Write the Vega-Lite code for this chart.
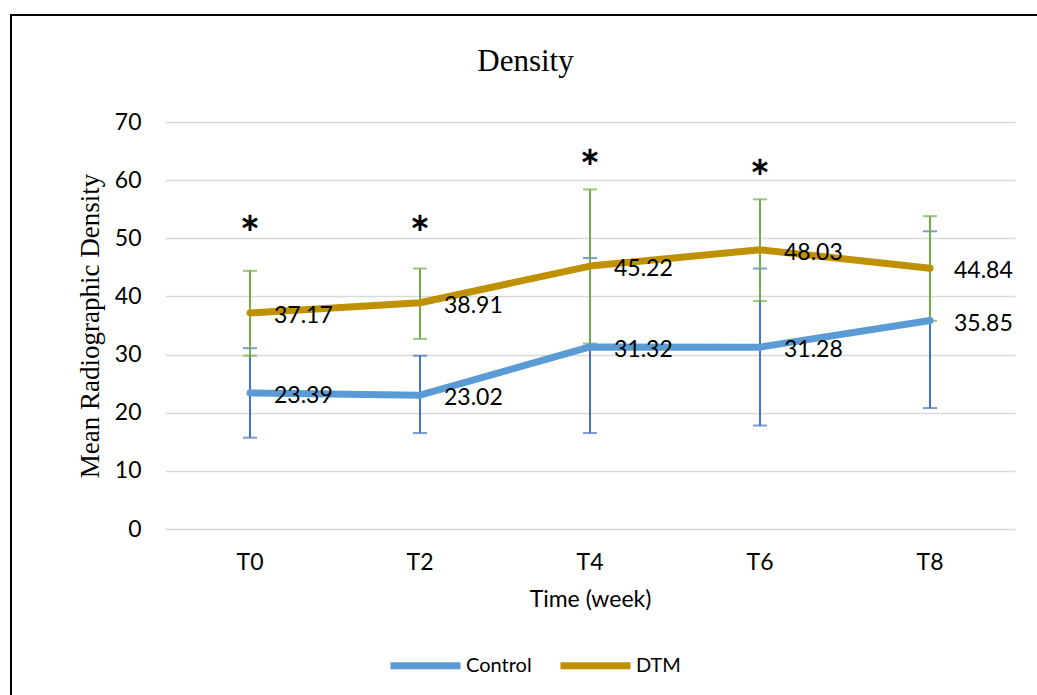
{
  "$schema": "https://vega.github.io/schema/vega-lite/v6.json",
  "width": 1029,
  "height": 683,
  "autosize": {"type": "none"},
  "padding": {"left": 11, "top": 15, "right": 0, "bottom": 0},
  "background": "white",
  "config": {"view": {"stroke": "black", "strokeWidth": 2}, "font": "Lato"},
  "title": {"text": "Density", "font": "Liberation Serif", "fontSize": 31, "fontWeight": "normal", "color": "black", "anchor": "middle", "frame": "group", "offset": -63},
  "datasets": {
    "series": [
      {"time": "T0", "group": "Control", "mean": 23.39, "lo": 15.7, "hi": 31.1},
      {"time": "T2", "group": "Control", "mean": 23.02, "lo": 16.5, "hi": 29.8},
      {"time": "T4", "group": "Control", "mean": 31.32, "lo": 16.5, "hi": 46.6},
      {"time": "T6", "group": "Control", "mean": 31.28, "lo": 17.8, "hi": 44.8},
      {"time": "T8", "group": "Control", "mean": 35.85, "lo": 20.8, "hi": 51.2},
      {"time": "T0", "group": "DTM", "mean": 37.17, "lo": 29.8, "hi": 44.4},
      {"time": "T2", "group": "DTM", "mean": 38.91, "lo": 32.7, "hi": 44.8},
      {"time": "T4", "group": "DTM", "mean": 45.22, "lo": 31.9, "hi": 58.4},
      {"time": "T6", "group": "DTM", "mean": 48.03, "lo": 39.2, "hi": 56.7},
      {"time": "T8", "group": "DTM", "mean": 44.84, "lo": 35.8, "hi": 53.8}
    ],
    "stars": [
      {"time": "T0", "y": 52.4, "label": "*"},
      {"time": "T2", "y": 52.4, "label": "*"},
      {"time": "T4", "y": 63.8, "label": "*"},
      {"time": "T6", "y": 62.1, "label": "*"}
    ]
  },
  "data": {"name": "series"},
  "encoding": {
    "x": {
      "field": "time",
      "type": "nominal",
      "bandPosition": 0.5,
      "sort": ["T0", "T2", "T4", "T6", "T8"],
      "scale": {"type": "band", "domain": ["T0", "T2", "T4", "T6", "T8"], "range": [154, 1004], "paddingInner": 0, "paddingOuter": 0},
      "axis": {"title": "Time (week)", "titleFont": "Lato", "titleFontSize": 23, "titleFontWeight": "normal", "titleColor": "black", "titlePadding": 14, "offset": -169, "domain": false, "ticks": false, "grid": false, "labelPadding": 22, "labelFontSize": 23, "labelFont": "Lato", "labelColor": "black", "labelAngle": 0}
    }
  },
  "layer": [
    {
      "mark": {"type": "line", "opacity": 0},
      "encoding": {
        "y": {
          "field": "mean",
          "type": "quantitative",
          "title": "Mean Radiographic Density",
          "scale": {"domain": [0, 70], "range": [514, 107], "nice": false, "zero": true},
          "axis": {"title": "Mean Radiographic Density", "titleFont": "Liberation Serif", "titleFontSize": 27, "titleFontWeight": "normal", "titleColor": "black", "titlePadding": 10, "offset": -154, "domain": false, "ticks": false, "labelPadding": 24, "labelFontSize": 23, "labelFont": "Lato", "labelColor": "black", "values": [0, 10, 20, 30, 40, 50, 60, 70], "grid": true, "gridColor": "#d9d9d9", "gridWidth": 1.5}
        },
        "detail": {"field": "group"}
      }
    },
    {
      "transform": [{"filter": "datum.group === 'Control'"}],
      "mark": {"type": "errorbar", "ticks": {"size": 14, "thickness": 2, "color": "#4472C4"}, "rule": {"strokeWidth": 2, "color": "#4472C4"}, "color": "#4472C4"},
      "encoding": {
        "y": {"field": "lo", "type": "quantitative", "title": "Mean Radiographic Density"},
        "y2": {"field": "hi"}
      }
    },
    {
      "transform": [{"filter": "datum.group === 'DTM'"}],
      "mark": {"type": "errorbar", "ticks": {"size": 14, "thickness": 2, "color": "#70AD47"}, "rule": {"strokeWidth": 2, "color": "#70AD47"}, "color": "#70AD47"},
      "encoding": {
        "y": {"field": "lo", "type": "quantitative", "title": "Mean Radiographic Density"},
        "y2": {"field": "hi"}
      }
    },
    {
      "mark": {"type": "line", "strokeWidth": 7, "strokeCap": "round", "strokeJoin": "round"},
      "encoding": {
        "y": {"field": "mean", "type": "quantitative", "title": "Mean Radiographic Density"},
        "color": {
          "field": "group",
          "type": "nominal",
          "scale": {"domain": ["Control", "DTM"], "range": ["#5B9BD5", "#BF9000"]},
          "legend": {"orient": "none", "legendX": 376, "legendY": 612, "direction": "horizontal", "title": null, "symbolType": "stroke", "symbolSize": 4900, "symbolStrokeWidth": 7, "labelFontSize": 20, "labelFont": "Lato", "labelColor": "black", "labelOffset": 2, "columnPadding": 14}
        }
      }
    },
    {
      "mark": {"type": "text", "align": "left", "baseline": "middle", "dx": 24, "dy": 3, "fontSize": 23, "font": "Lato", "color": "black"},
      "encoding": {
        "y": {"field": "mean", "type": "quantitative", "title": "Mean Radiographic Density"},
        "text": {"field": "mean", "type": "quantitative", "format": ".2f"}
      }
    },
    {
      "data": {"name": "stars"},
      "mark": {"type": "text", "align": "center", "baseline": "middle", "dy": 13, "fontSize": 48, "fontWeight": "bold", "font": "Lato", "color": "black"},
      "encoding": {
        "y": {"field": "y", "type": "quantitative", "title": "Mean Radiographic Density"},
        "text": {"field": "label"}
      }
    }
  ]
}
